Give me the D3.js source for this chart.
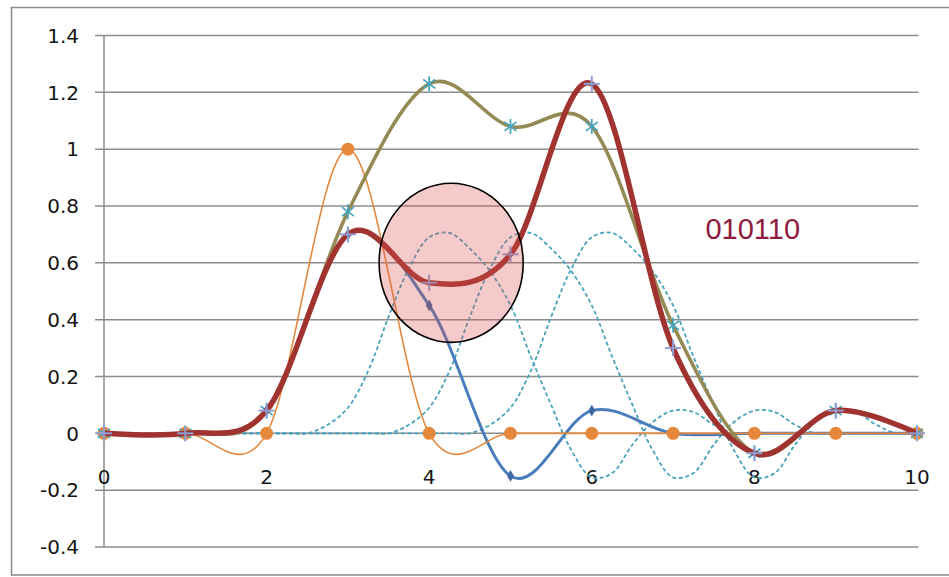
<!DOCTYPE html>
<html>
<head>
<meta charset="utf-8">
<script src="https://cdn.jsdelivr.net/npm/d3@7/dist/d3.min.js"></script>
<style>
  html, body { margin: 0; padding: 0; background: #fff; }
  svg { display: block; }
</style>
</head>
<body>
<svg id="chart" width="949" height="577"></svg>
<script>
// ---- data ----
const xValues = [0, 1, 2, 3, 4, 5, 6, 7, 8, 9, 10];
const xTicks = [0, 2, 4, 6, 8, 10];
const yTicks = [-0.4, -0.2, 0, 0.2, 0.4, 0.6, 0.8, 1, 1.2, 1.4];

// single-sample impulse at x = 3
const impulse = [0, 0, 0, 1, 0, 0, 0, 0, 0, 0, 0];
// sampled pulse response for the bit at x = 3
const pulse3 = [0, 0, 0.08, 0.7, 0.45, -0.15, 0.08, 0, 0, 0, 0];
// received samples, bits 011110
const sum011110 = [0, 0, 0.08, 0.78, 1.23, 1.08, 1.08, 0.38, -0.07, 0.08, 0];
// received samples, bits 010110
const sum010110 = [0, 0, 0.08, 0.7, 0.53, 0.63, 1.23, 0.3, -0.07, 0.08, 0];

// continuous pulse shapes for the bits at x = 4, 5, 6
const pulseAt4 = [[0,0],[2.25,0],[2.5,0],[2.75,0.03],[3,0.09],[3.25,0.22],[3.5,0.41],[3.75,0.58],[4,0.69],[4.25,0.705],[4.5,0.65],[4.75,0.57],[5,0.45],[5.25,0.27],[5.5,0.1],[5.75,-0.06],[6,-0.155],[6.25,-0.14],[6.5,-0.04],[6.75,0.04],[7,0.08],[7.25,0.075],[7.5,0.03],[7.75,0],[8,0],[10,0]];
const pulseAt5 = [[0,0],[3.25,0],[3.5,0],[3.75,0.03],[4,0.09],[4.25,0.22],[4.5,0.41],[4.75,0.58],[5,0.69],[5.25,0.705],[5.5,0.65],[5.75,0.57],[6,0.45],[6.25,0.27],[6.5,0.1],[6.75,-0.06],[7,-0.155],[7.25,-0.14],[7.5,-0.04],[7.75,0.04],[8,0.08],[8.25,0.075],[8.5,0.03],[8.75,0],[9,0],[10,0]];
const pulseAt6 = [[0,0],[4.25,0],[4.5,0],[4.75,0.03],[5,0.09],[5.25,0.22],[5.5,0.41],[5.75,0.58],[6,0.69],[6.25,0.705],[6.5,0.65],[6.75,0.57],[7,0.45],[7.25,0.27],[7.5,0.1],[7.75,-0.06],[8,-0.155],[8.25,-0.14],[8.5,-0.04],[8.75,0.04],[9,0.08],[9.25,0.075],[9.5,0.03],[9.75,0],[10,0]];

const bitLabel = "010110";

// ---- layout ----
const svg = d3.select("#chart");
const x = d3.scaleLinear().domain([0, 10]).range([104, 917]);
const y = d3.scaleLinear().domain([-0.4, 1.4]).range([547, 35.5]);

// outer chart frame
svg.append("rect")
  .attr("x", 11.5).attr("y", 7.5)
  .attr("width", 945).attr("height", 567.5)
  .attr("fill", "none").attr("stroke", "#8a8a8a").attr("stroke-width", 1.5);

// horizontal gridlines (extending left as tick marks)
svg.append("g").selectAll("line").data(yTicks).join("line")
  .attr("x1", 95).attr("x2", 918.5)
  .attr("y1", d => y(d)).attr("y2", d => y(d))
  .attr("stroke", "#8c8c8c").attr("stroke-width", 1.5);

// vertical value axis
svg.append("line")
  .attr("x1", x(0)).attr("x2", x(0))
  .attr("y1", y(1.4)).attr("y2", y(-0.4))
  .attr("stroke", "#8c8c8c").attr("stroke-width", 1.5);

const labelFont = "'DejaVu Sans', Verdana, sans-serif";

svg.append("g").selectAll("text").data(yTicks).join("text")
  .attr("x", 79).attr("y", d => y(d))
  .attr("dy", "0.36em")
  .attr("text-anchor", "end")
  .attr("font-family", labelFont).attr("font-size", 20)
  .attr("fill", "#151515")
  .text(d => String(d));

svg.append("g").selectAll("text").data(xTicks).join("text")
  .attr("x", d => x(d)).attr("y", y(0) + 51)
  .attr("text-anchor", "middle")
  .attr("font-family", labelFont).attr("font-size", 20)
  .attr("fill", "#151515")
  .text(d => String(d));

// ---- series ----
const smooth = d3.line().x(d => x(d[0])).y(d => y(d[1])).curve(d3.curveCardinal.tension(0));
const smoothFine = d3.line().x(d => x(d[0])).y(d => y(d[1])).curve(d3.curveCatmullRom.alpha(0.5));
const pts = vals => xValues.map((v, i) => [v, vals[i]]);

// dashed pulse shapes
[pulseAt4, pulseAt5, pulseAt6].forEach(p => {
  svg.append("path").attr("d", smoothFine(p))
    .attr("fill", "none").attr("stroke", "#4aa3bd")
    .attr("stroke-width", 1.8).attr("stroke-dasharray", "4,2.6");
});

// pulse for the bit at x = 3
svg.append("path").attr("d", smooth(pts(pulse3)))
  .attr("fill", "none").attr("stroke", "#4a7dbb").attr("stroke-width", 3);
svg.append("g").selectAll("path").data(pts(pulse3)).join("path")
  .attr("d", d3.symbol(d3.symbolDiamond, 40)())
  .attr("transform", d => `translate(${x(d[0])},${y(d[1])})`)
  .attr("fill", "#3e66a0");

// impulse
svg.append("path").attr("d", smooth(pts(impulse)))
  .attr("fill", "none").attr("stroke", "#e5883c").attr("stroke-width", 1.6);
svg.append("g").selectAll("circle").data(pts(impulse)).join("circle")
  .attr("cx", d => x(d[0])).attr("cy", d => y(d[1])).attr("r", 6.5)
  .attr("fill", "#e5883c");

// bits 011110
svg.append("path").attr("d", smooth(pts(sum011110)))
  .attr("fill", "none").attr("stroke", "#948a54").attr("stroke-width", 3.6);
const star = svg.append("g");
pts(sum011110).forEach(d => {
  const cx = x(d[0]), cy = y(d[1]), r = 7.5;
  const g = star.append("g").attr("transform", `translate(${cx},${cy})`)
    .attr("stroke", "#43a3c0").attr("stroke-width", 1.7);
  g.append("line").attr("x1", 0).attr("y1", -r).attr("x2", 0).attr("y2", r);
  g.append("line").attr("x1", -r * 0.8).attr("y1", -r * 0.6).attr("x2", r * 0.8).attr("y2", r * 0.6);
  g.append("line").attr("x1", -r * 0.8).attr("y1", r * 0.6).attr("x2", r * 0.8).attr("y2", -r * 0.6);
});

// bits 010110
svg.append("path").attr("d", smooth(pts(sum010110)))
  .attr("fill", "none").attr("stroke", "#a0332f").attr("stroke-width", 5.5)
  .attr("stroke-linejoin", "round");
const plus = svg.append("g");
pts(sum010110).forEach(d => {
  const cx = x(d[0]), cy = y(d[1]), r = 8;
  const g = plus.append("g").attr("transform", `translate(${cx},${cy})`)
    .attr("stroke", "#8c9fd6").attr("stroke-width", 2);
  g.append("line").attr("x1", -r).attr("y1", 0).attr("x2", r).attr("y2", 0);
  g.append("line").attr("x1", 0).attr("y1", -r).attr("x2", 0).attr("y2", r);
});

// highlighted region (in data units)
const focus = { cx: 4.27, cy: 0.6, rx: 0.886, ry: 0.28 };
svg.append("ellipse")
  .attr("cx", x(focus.cx)).attr("cy", y(focus.cy))
  .attr("rx", x(focus.rx) - x(0)).attr("ry", y(0) - y(focus.ry))
  .attr("fill", "#d9534f").attr("fill-opacity", 0.3)
  .attr("stroke", "#000").attr("stroke-width", 1.6);

// bit pattern label
svg.append("text")
  .attr("x", x(7.98)).attr("y", y(0.685))
  .attr("text-anchor", "middle")
  .attr("font-family", "'Liberation Sans', Arial, sans-serif")
  .attr("font-size", 29)
  .attr("fill", "#8e1a3c")
  .text(bitLabel);
</script>
</body>
</html>
